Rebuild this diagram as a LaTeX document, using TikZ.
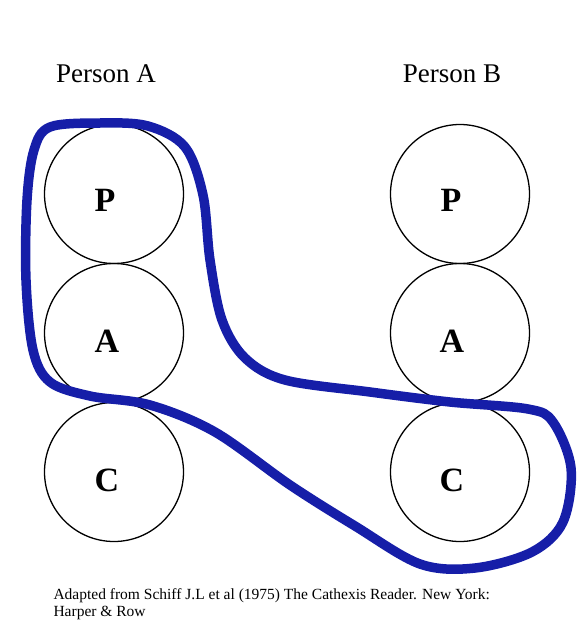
\documentclass[tikz,border=0pt]{standalone}
\usepackage{fontspec}
\setmainfont{Liberation Serif}
\usepackage{tikz}
\usetikzlibrary{calc, positioning}
\usepackage{xcolor}
\definecolor{marker}{RGB}{22, 30, 168}

\begin{document}
\begin{tikzpicture}[x=1pt, y=-1pt,
    ego/.style={draw, circle, line width=1.3pt, minimum size=139pt, inner sep=0pt},
    egoletter/.style={font=\fontsize{34}{34}\selectfont\bfseries},
    person/.style={font=\fontsize{27}{27}\selectfont}]
  \useasboundingbox (0,0) rectangle (582,626);

  % Person A
  \node[person] (nameA) at (106,74) {Person A};
  \node[ego] (pA) at (114,194) {};
  \node[ego] (aA) at (114,333) {};
  \node[ego] (cA) at (114,472) {};
  \node[egoletter] (lpA) at ($(pA.center)+(-9,6)$) {P};
  \node[egoletter] (laA) at ($(aA.center)+(-7,8)$) {A};
  \node[egoletter] (lcA) at ($(cA.center)+(-7,8)$) {C};

  % Person B
  \node[person] (nameB) at (452,74) {Person B};
  \node[ego] (pB) at (460,194) {};
  \node[ego] (aB) at (460,333) {};
  \node[ego] (cB) at (460,472) {};
  \node[egoletter] (lpB) at ($(pB.center)+(-9,6)$) {P};
  \node[egoletter] (laB) at ($(aB.center)+(-8,8)$) {A};
  \node[egoletter] (lcB) at ($(cB.center)+(-8,8)$) {C};

  % The hand drawn loop
  \draw[marker, line width=9.5pt, line join=round]
    plot[smooth cycle, tension=0.55] coordinates {
      (50,127) (100,123) (148,126) (185,147) (203,195) (210,260)
      (222,320) (245,358) (285,380) (370,392) (450,402) (528,409)
      (553,422) (571,468) (563,522) (532,552) (475,568) (420,564)
      (355,526) (290,485) (215,432) (150,405) (90,396) (50,382)
      (33,350) (26,280) (27,200) (34,150)};

  % Source
  \node[font=\fontsize{15.5}{17.5}\selectfont, align=left, anchor=north west] (source) at (50,585)
    {Adapted from Schiff J.L et al (1975) The Cathexis Reader. New York:\\Harper \& Row};
\end{tikzpicture}
\end{document}
